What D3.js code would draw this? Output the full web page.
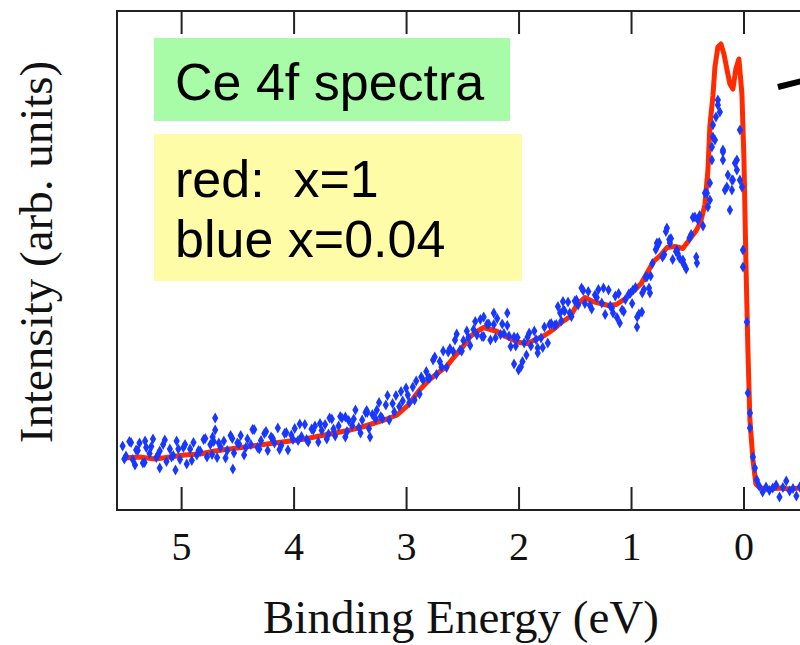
<!DOCTYPE html>
<html>
<head>
<meta charset="utf-8">
<script src="https://cdn.jsdelivr.net/npm/d3@7"></script>
<style>
  body { margin: 0; background: #ffffff; }
  svg { display: block; }
</style>
</head>
<body>
<svg width="800" height="645"></svg>
<script>
// binding energy ticks (eV)
var tickValues = [5, 4, 3, 2, 1, 0];

// red: x=1, [energy eV, intensity arb.]
var redData = [
  [5.50,10.4],[5.37,10.6],[5.23,10.2],[5.10,10.6],[4.97,11.0],[4.83,11.2],[4.70,11.8],[4.57,12.2],
  [4.43,12.6],[4.30,13.0],[4.17,13.4],[4.03,13.8],[3.90,14.2],[3.77,14.8],[3.63,15.4],[3.50,16.0],
  [3.39,16.6],[3.28,17.4],[3.17,18.2],[3.08,19.0],[2.98,21.0],[2.88,24.0],[2.79,26.1],[2.70,27.7],
  [2.64,28.7],[2.57,30.7],[2.50,32.5],[2.43,34.7],[2.37,35.7],[2.31,36.5],[2.25,36.1],[2.19,35.7],
  [2.13,34.9],[2.06,34.1],[1.99,33.5],[1.92,33.3],[1.85,34.1],[1.77,34.9],[1.69,36.1],[1.62,37.5],
  [1.54,38.7],[1.48,41.1],[1.41,42.5],[1.34,41.7],[1.27,41.3],[1.20,40.9],[1.13,41.1],[1.05,42.3],
  [0.98,43.7],[0.91,45.3],[0.85,47.7],[0.80,49.7],[0.74,50.9],[0.68,52.5],[0.61,52.7],[0.54,52.3],
  [0.48,54.1],[0.42,55.9],[0.38,57.7],[0.343,61.1],[0.316,68.1],[0.299,76.8],[0.272,82.8],[0.254,88.6],
  [0.228,92.6],[0.201,93.2],[0.174,91.2],[0.148,88.2],[0.121,85.2],[0.094,84.2],[0.068,88.2],[0.041,90.2],
  [0.014,83.2],[-0.004,70.1],[-0.021,50.1],[-0.039,32.1],[-0.057,18.0],[-0.084,10.0],[-0.110,5.2],
  [-0.146,4.4],[-0.236,4.2],[-0.325,4.4],[-0.414,4.2],[-0.503,4.4]
];

// blue: x=0.04, [energy eV, intensity arb.]
var blueData = [
  [5.52,12.8],[5.49,10.8],[5.46,13.7],[5.43,10.1],[5.40,12.0],[5.37,13.4],[5.34,9.4],[5.31,12.5],
  [5.28,11.3],[5.25,14.2],[5.22,10.5],[5.19,11.8],[5.16,13.1],[5.13,9.7],[5.10,12.2],[5.07,10.9],
  [5.04,13.8],[5.01,10.1],[4.98,12.5],[4.95,9.2],[4.92,12.2],[4.89,13.5],[4.86,11.0],[4.83,11.8],
  [4.80,14.1],[4.77,10.6],[4.74,13.1],[4.71,13.7],[4.68,10.5],[4.65,12.6],[4.62,13.8],[4.59,11.9],
  [4.56,14.9],[4.53,11.4],[4.50,13.4],[4.47,14.9],[4.44,11.0],[4.41,14.2],[4.38,13.1],[4.35,16.1],
  [4.32,12.5],[4.29,13.9],[4.26,15.3],[4.23,11.9],[4.20,14.6],[4.17,13.4],[4.14,16.4],[4.11,12.9],
  [4.08,15.3],[4.05,12.0],[4.02,15.0],
  [3.99,16.3],[3.96,13.9],[3.93,14.7],[3.90,17.1],[3.87,13.6],[3.84,16.2],[3.81,16.8],[3.78,13.6],
  [3.75,15.9],[3.72,17.1],[3.69,15.2],[3.66,18.2],[3.63,14.8],[3.60,16.8],[3.57,18.4],[3.54,14.6],
  [3.51,17.9],[3.48,16.9],[3.45,20.0],[3.42,16.5],[3.39,18.0],[3.36,19.5],[3.33,16.3],[3.30,19.1],
  [3.27,18.2],[3.24,21.5],[3.21,18.3],[3.18,21.0],[3.15,18.0],[3.12,21.3],[3.09,22.9],[3.06,20.7],
  [3.03,21.8],
  [3.00,24.4],[2.97,21.5],[2.94,24.6],[2.91,25.8],[2.88,23.2],[2.85,26.0],[2.82,27.7],[2.79,26.4],
  [2.76,30.0],[2.73,27.1],[2.70,29.7],[2.67,31.8],[2.64,28.5],[2.61,32.3],[2.58,31.7],[2.55,35.2],
  [2.52,32.0],[2.49,33.9],[2.46,35.8],[2.43,32.9],[2.40,36.1],[2.37,35.0],[2.34,38.1],[2.31,34.7],
  [2.28,37.2],[2.25,34.0],[2.22,37.1],
  [2.19,38.3],[2.16,35.1],[2.13,35.3],[2.10,36.9],[2.07,32.7],[2.04,34.6],[2.01,34.5],[1.98,28.6],
  [1.95,33.4],[1.92,34.6],[1.89,32.8],[1.86,35.8],[1.83,32.4],[1.80,34.4],[1.77,36.6],[1.74,33.4],
  [1.71,37.3],[1.68,36.9],[1.65,40.7],[1.62,37.8],[1.59,39.8],[1.56,41.6],[1.53,38.7],[1.50,41.8],
  [1.47,41.0],[1.44,44.4],[1.41,41.3],[1.38,43.7],[1.35,40.2],[1.32,43.0],[1.29,44.1],[1.26,41.4],
  [1.23,39.1],[1.20,44.0],[1.17,40.4],[1.14,42.8],[1.11,43.3],[1.08,40.0],[1.05,42.1],[1.02,43.2],
  [0.99,41.3],[0.96,44.5],[0.93,39.2],[0.90,43.4],[0.87,46.6],[0.84,44.4],[0.81,49.3],[0.78,52.1],
  [0.75,53.5],[0.72,50.6],[0.69,55.7],[0.66,54.1],[0.63,50.1],[0.60,51.7],[0.57,50.4],[0.54,49.5],
  [0.51,48.2],[0.48,54.4],[0.45,58.5],[0.42,50.6],[0.39,58.9],[0.36,56.8],
  [0.343,63.4],[0.326,63.4],[0.317,60.6],[0.299,65.4],[0.299,62.0],[0.281,70.0],[0.281,72.6],[0.272,74.6],
  [0.272,77.0],[0.254,74.0],[0.245,78.6],[0.228,81.0],[0.228,82.0],[0.210,79.6],[0.183,71.6],[0.183,70.0],
  [0.183,72.0],[0.165,64.0],[0.148,64.6],[0.139,67.0],[0.121,60.0],[0.103,66.0],[0.103,64.0],[0.094,66.0],
  [0.076,69.4],[0.059,70.0],[0.059,68.0],[0.032,76.0],[0.032,66.0],[0.014,64.6],[0.005,52.0],[0.005,48.6],
  [-0.030,37.6],[-0.039,23.4],[-0.057,19.4],[-0.057,16.4],[-0.084,10.6],[-0.101,8.4],[-0.119,6.0],
  [-0.14,4.8],[-0.17,3.6],[-0.20,4.6],[-0.23,3.9],[-0.26,4.4],[-0.29,5.0],[-0.32,2.6],[-0.35,4.5],
  [-0.38,5.8],[-0.41,3.8],[-0.44,4.3],[-0.47,2.8],[-0.50,4.6],[-0.53,4.0],
  [5.505,10.2],[5.445,13.5],[5.385,11.9],[5.325,9.5],[5.265,12.7],[5.205,11.1],[5.145,14.0],[5.085,10.6],
  [5.025,12.2],[4.965,13.1],[4.905,9.9],[4.845,11.9],[4.785,14.3],[4.725,11.1],[4.665,13.4],[4.605,10.4],
  [4.545,14.3],[4.485,13.2],[4.425,12.5],[4.365,16.1],[4.305,12.2],[4.245,15.7],[4.185,14.3],[4.125,12.1],
  [4.065,15.5],[4.005,14.1],[3.945,17.2],[3.885,14.1],[3.825,16.0],[3.765,17.3],[3.705,14.2],[3.645,16.2],
  [3.585,18.7],[3.525,15.7],[3.465,18.2],[3.405,15.4],[3.345,19.5],[3.285,18.8],[3.225,18.7],[3.165,22.9],
  [3.105,19.6],[3.045,23.7],[2.985,23.0],[2.925,22.0],[2.865,26.6],[2.805,26.4],[2.745,30.6],[2.685,28.6],
  [2.625,31.6],[2.565,34.0],[2.505,31.8],[2.445,34.5],[2.385,37.7],[2.325,34.7],[2.265,37.2],[2.205,34.4],
  [2.145,37.2],[2.085,34.8],[2.025,32.8],[1.965,29.7],[1.905,35.4],[1.845,34.1],[1.785,32.5],[1.725,37.1],
  [1.665,37.1],[1.605,41.7],[1.545,39.4],[1.485,42.0],[1.425,43.9],[1.365,40.9],[1.305,42.5],[1.245,44.4],
  [1.185,40.8],[1.125,38.5],[1.065,39.7],[1.005,43.4],[0.945,38.6],[0.885,44.1],[0.825,46.8],[0.765,52.8],
  [0.705,51.1],[0.645,54.3],[0.585,51.3],[0.525,48.9],[0.465,55.1],[0.405,58.0],
  [4.697,18.4],[4.697,16.0],[4.72,14.6],[5.32,13.8],[5.19,8.4],[5.05,8.0],[5.41,9.0],[4.54,8.2],
  [3.68,18.4],[3.54,18.6],[3.35,19.9],[3.26,20.0],[3.32,14.6],[1.16,39.4],[1.10,37.4],[0.947,36.6],
  [0.903,39.6],[0.983,44.0],[0.859,46.6],[0.832,43.4],[0.77,53.4],[0.681,56.4],[0.654,53.4],[0.592,52.0],
  [0.539,50.0],[0.414,49.4],[0.432,58.6],[2.00,28.0],[2.04,29.2],[1.93,31.0],[1.83,31.4],[2.31,38.6],
  [2.22,39.4],[2.10,39.4],[1.63,39.4],[1.60,40.0]
];

// pointer line at top right, [energy, intensity]
var pointer = [[-0.306, 84.6], [-0.52, 85.8]];

var svg = d3.select("svg");

var x = d3.scaleLinear().domain([5.57, -0.6]).range([117, 811]),
    y = d3.scaleLinear().domain([0, 99.8]).range([510, 11]);

// frame
svg.append("rect")
  .attr("x", x(5.57)).attr("y", y(99.8))
  .attr("width", x(-0.6) - x(5.57)).attr("height", y(0) - y(99.8))
  .attr("fill", "none").attr("stroke", "#222").attr("stroke-width", 2);

// ticks bottom and top, pointing in
var tickLen = 23;
svg.append("g")
  .attr("transform", "translate(0," + y(0) + ")")
  .call(d3.axisTop(x).tickValues(tickValues).tickSize(tickLen).tickFormat(""))
  .call(function(g) { g.select(".domain").remove(); })
  .selectAll("line").attr("stroke", "#222").attr("stroke-width", 2);

svg.append("g")
  .attr("transform", "translate(0," + y(99.8) + ")")
  .call(d3.axisBottom(x).tickValues(tickValues).tickSize(tickLen).tickFormat(""))
  .call(function(g) { g.select(".domain").remove(); })
  .selectAll("line").attr("stroke", "#222").attr("stroke-width", 2);

// tick labels
svg.append("g")
  .attr("transform", "translate(0," + y(0) + ")")
  .call(d3.axisBottom(x).tickValues(tickValues).tickSize(0).tickPadding(0).tickFormat(d3.format("d")))
  .call(function(g) { g.select(".domain").remove(); })
  .selectAll("text")
    .attr("y", 50).attr("dy", 0)
    .attr("font-family", "Liberation Serif, Times New Roman, serif")
    .attr("font-size", 40).attr("fill", "#111");

// red curve
var line = d3.line()
  .x(function(d) { return x(d[0]); })
  .y(function(d) { return y(d[1]); });

svg.append("path")
  .datum(redData)
  .attr("d", line)
  .attr("fill", "none")
  .attr("stroke", "#ff2a00")
  .attr("stroke-width", 5)
  .attr("stroke-linejoin", "round");

// blue points
svg.append("g").selectAll("path")
  .data(blueData)
  .enter().append("path")
    .attr("d", d3.symbol().type(d3.symbolDiamond).size(34))
    .attr("transform", function(d) { return "translate(" + x(d[0]) + "," + y(d[1]) + ")"; })
    .attr("fill", "#1838ff");

// pointer
svg.append("line")
  .attr("x1", x(pointer[0][0])).attr("y1", y(pointer[0][1]))
  .attr("x2", x(pointer[1][0])).attr("y2", y(pointer[1][1]))
  .attr("stroke", "#000").attr("stroke-width", 6);

// labels
svg.append("rect").attr("x", 154).attr("y", 38).attr("width", 356).attr("height", 83).attr("fill", "#a8fca8");
svg.append("rect").attr("x", 154).attr("y", 134).attr("width", 368).attr("height", 147).attr("fill", "#fffca8");

var sans = "Liberation Sans, Arial, sans-serif";
svg.append("text").attr("x", 175).attr("y", 100).attr("font-family", sans).attr("font-size", 52)
  .text("Ce 4f spectra");
svg.append("text").attr("x", 175).attr("y", 197).attr("font-family", sans).attr("font-size", 52)
  .style("white-space", "pre").text("red:  x=1");
svg.append("text").attr("x", 175).attr("y", 257).attr("font-family", sans).attr("font-size", 52)
  .text("blue x=0.04");

// axis titles
var serif = "Liberation Serif, Times New Roman, serif";
svg.append("text")
  .attr("x", 461).attr("y", 633)
  .attr("text-anchor", "middle")
  .attr("font-family", serif).attr("font-size", 47).attr("fill", "#111")
  .text("Binding Energy (eV)");

svg.append("text")
  .attr("transform", "translate(52,252) rotate(-90)")
  .attr("text-anchor", "middle")
  .attr("font-family", serif).attr("font-size", 47).attr("fill", "#111")
  .text("Intensity (arb. units)");
</script>
</body>
</html>
